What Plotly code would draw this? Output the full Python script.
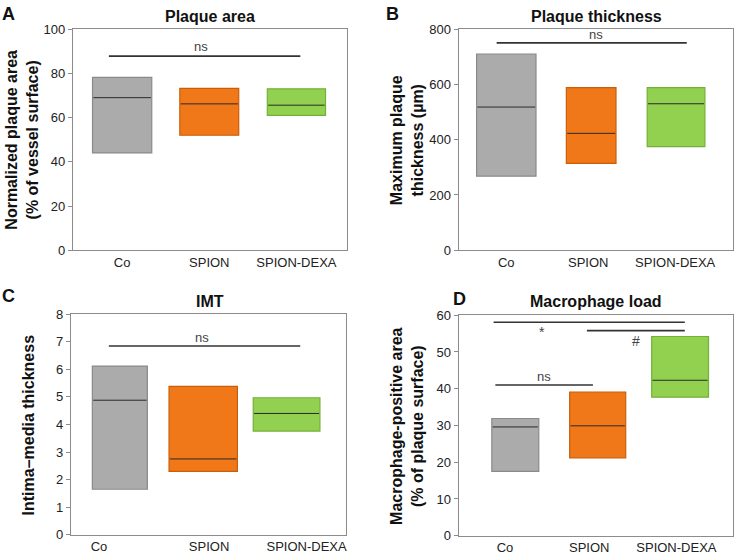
import plotly.graph_objects as go

categories = ["Co", "SPION", "SPION-DEXA"]

area_min = [44.0, 52.0, 61.0]
area_med = [69.0, 66.2, 65.6]
area_max = [78.2, 73.2, 73.0]

thick_min = [268, 314, 375]
thick_med = [518, 423, 530]
thick_max = [710, 588, 588]

imt_min = [1.65, 2.30, 3.76]
imt_med = [4.88, 2.75, 4.40]
imt_max = [6.12, 5.38, 4.97]

mac_min = [17.5, 21.2, 37.7]
mac_med = [29.6, 29.9, 42.3]
mac_max = [31.9, 39.1, 54.2]

area_ticks = [0, 20, 40, 60, 80, 100]
thick_ticks = [0, 200, 400, 600, 800]
imt_ticks = [0, 1, 2, 3, 4, 5, 6, 7, 8]
mac_ticks = [0, 10, 20, 30, 40, 50, 60]

fill_colors = ["#ababab", "#f07818", "#92d050"]
edge_colors = ["#8a8a8a", "#c85e0a", "#74b038"]
FONT = "Liberation Sans, Arial, sans-serif"
W, H = 735, 559

panels = [
    dict(key="", letter="A", title="Plaque area",
         ytitle="Normalized plaque area<br>(% of vessel surface)",
         mins=area_min, meds=area_med, maxs=area_max, ticks=area_ticks,
         px=(73, 347), py=(22.7, 250), xr=[-0.565, 2.575],
         widths=[0.68, 0.676, 0.668], tickpos=[0, 1, 2],
         ytitle_x=22, letter_pos=(9, 7), title_pos=(210, 10)),
    dict(key="2", letter="B", title="Plaque thickness",
         ytitle="Maximum plaque<br>thickness (µm)",
         mins=thick_min, meds=thick_med, maxs=thick_max, ticks=thick_ticks,
         px=(459.3, 733.5), py=(22.7, 250), xr=[-0.561, 2.665],
         widths=[0.70, 0.585, 0.68], tickpos=[0, 0.965, 1.99],
         ytitle_x=407, letter_pos=(393, 7), title_pos=(597, 10)),
    dict(key="3", letter="C", title="IMT",
         ytitle="Intima–media thickness",
         mins=imt_min, meds=imt_med, maxs=imt_max, ticks=imt_ticks,
         px=(71, 346), py=(315.7, 542.3), xr=[-0.587, 2.707],
         widths=[0.66, 0.82, 0.80], tickpos=[-0.25, 1.07, 2.24],
         ytitle_x=29, letter_pos=(9, 297), title_pos=(210, 303)),
    dict(key="4", letter="D", title="Macrophage load",
         ytitle="Macrophage-positive area<br>(% of plaque surface)",
         mins=mac_min, meds=mac_med, maxs=mac_max, ticks=mac_ticks,
         px=(459.3, 733.5), py=(316.7, 543.3), xr=[-0.687, 2.636],
         widths=[0.57, 0.68, 0.69], tickpos=[-0.125, 0.897, 1.955],
         ytitle_x=408, letter_pos=(460, 300), title_pos=(597, 303)),
]

# significance brackets: (x0, x1, y) in data units, and labels (x, y, text)
sig_lines = {
    "": [(-0.152, 2.045, 87.8)],
    "2": [(-0.114, 2.126, 750)],
    "3": [(-0.132, 2.164, 6.85)],
    "4": [(-0.263, 2.057, 58.1), (0.869, 2.057, 55.8), (-0.242, 0.942, 41.0)],
}
sig_text = {
    "": [(0.9, 92.0, "ns")],
    "2": [(1.055, 781, "ns")],
    "3": [(0.986, 7.15, "ns")],
    "4": [(0.32, 55.4, "*"), (1.46, 52.9, "#"), (0.352, 43.2, "ns")],
}

fig = go.Figure()
layout = dict(width=W, height=H, margin=dict(l=0, r=0, t=0, b=0),
              paper_bgcolor="white", plot_bgcolor="white", showlegend=False,
              font=dict(family=FONT, color="#222"))
annotations = []
shapes = []

for p in panels:
    k = p["key"]
    xa, ya = "x" + k, "y" + k
    xs = list(range(len(categories)))
    fig.add_trace(go.Bar(
        x=xs, y=[mx - mn for mn, mx in zip(p["mins"], p["maxs"])], base=p["mins"],
        width=p["widths"], xaxis=xa, yaxis=ya,
        marker=dict(color=fill_colors, line=dict(color=edge_colors, width=1.2)),
        hoverinfo="skip"))
    mx_, my_ = [], []
    for i, (m, w) in enumerate(zip(p["meds"], p["widths"])):
        mx_ += [i - w / 2 + 0.01, i + w / 2 - 0.01, None]
        my_ += [m, m, None]
    fig.add_trace(go.Scatter(x=mx_, y=my_, mode="lines", xaxis=xa, yaxis=ya,
                             line=dict(color="#2a2a2a", width=1), hoverinfo="skip"))
    for (x0, x1, yv) in sig_lines[k]:
        shapes.append(dict(type="line", xref=xa, yref=ya, x0=x0, x1=x1, y0=yv, y1=yv,
                           line=dict(color="#333", width=1.6)))
    for (tx, ty, tt) in sig_text[k]:
        annotations.append(dict(xref=xa, yref=ya, x=tx, y=ty, text=tt, showarrow=False,
                                font=dict(size=14 if tt != "ns" else 13, color="#444")))
    xd = [p["px"][0] / W, p["px"][1] / W]
    yd = [1 - p["py"][1] / H, 1 - p["py"][0] / H]
    layout["xaxis" + k] = dict(domain=xd, range=p["xr"], anchor=ya, tickmode="array",
                               tickvals=p["tickpos"], ticktext=categories,
                               showline=True, mirror=True, linecolor="#8c8c8c", linewidth=1,
                               ticks="", showgrid=False, zeroline=False,
                               tickfont=dict(size=13, color="#222"), fixedrange=True)
    layout["yaxis" + k] = dict(domain=yd, range=[p["ticks"][0], p["ticks"][-1]], anchor=xa,
                               tickmode="array", tickvals=p["ticks"],
                               showline=True, mirror=True, linecolor="#8c8c8c", linewidth=1,
                               ticks="outside", ticklen=4, tickcolor="#8c8c8c",
                               showgrid=False, zeroline=False,
                               tickfont=dict(size=13, color="#222"), fixedrange=True)
    annotations.append(dict(xref="paper", yref="paper", x=p["letter_pos"][0] / W,
                            y=1 - p["letter_pos"][1] / H, text="<b>" + p["letter"] + "</b>",
                            showarrow=False, xanchor="center", yanchor="middle",
                            font=dict(size=18, color="#111")))
    annotations.append(dict(xref="paper", yref="paper", x=p["title_pos"][0] / W,
                            y=1 - p["title_pos"][1] / H, text="<b>" + p["title"] + "</b>",
                            showarrow=False, xanchor="center", yanchor="middle",
                            font=dict(size=16, color="#111")))
    annotations.append(dict(xref="paper", yref="paper", x=p["ytitle_x"] / W,
                            y=1 - (p["py"][0] + p["py"][1]) / 2 / H,
                            text="<b>" + p["ytitle"] + "</b>", textangle=-90,
                            showarrow=False, xanchor="center", yanchor="middle",
                            font=dict(size=16, color="#111")))

layout["annotations"] = annotations
layout["shapes"] = shapes
fig.update_layout(**layout)
fig.write_html("out.html", config={"displayModeBar": False},
               post_script="document.body.style.margin='0';document.body.style.overflow='hidden';")
